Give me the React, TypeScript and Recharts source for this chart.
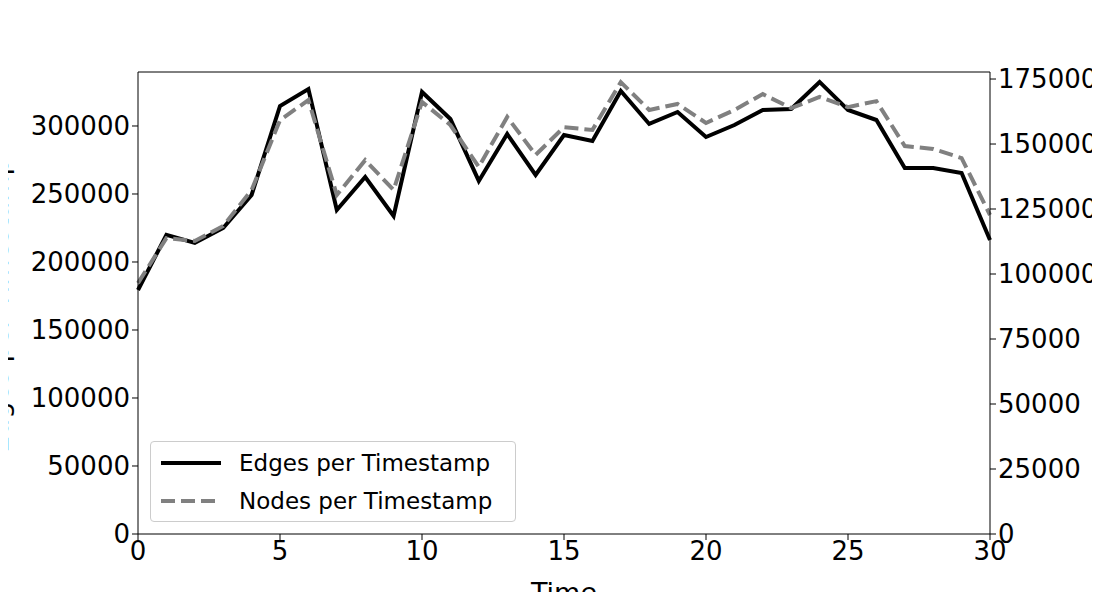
import React from "react";
import { LineChart, Line, XAxis, YAxis } from "recharts";

const times = Array.from({ length: 31 }, (_, i) => i);
const edges = [179400,219900,214000,225000,249300,314700,327200,238200,262500,233800,325000,305100,259600,294100,264000,293400,289000,325700,301500,310300,291900,300700,311800,312500,332400,311800,304400,269100,269100,265400,216200];
const nodes = [96500,113800,112700,118500,132300,159200,166900,130400,143800,132300,166200,157300,141200,160400,145800,156500,155400,173800,163100,165400,158100,163100,169200,163800,168100,164200,166500,149200,148100,144600,122700];
const xTicks = [0,5,10,15,20,25,30];
const leftTicks = [0,50000,100000,150000,200000,250000,300000];
const rightTicks = [0,25000,50000,75000,100000,125000,150000,175000];

const data = times.map((t, i) => ({ t, edges: edges[i], nodes: nodes[i] }));
const font = "DejaVu Sans";
const tick = { fill: "#000", fontSize: 26, fontFamily: font };

const LegendBox = () => (
  <div style={{ position: "absolute", left: 150, top: 441, boxSizing: "border-box", border: "1px solid #ccc", borderRadius: 4, background: "#fff", padding: "2px 10px", width: 366, height: 81, fontFamily: font, fontSize: 23 }}>
    <div style={{ display: "flex", alignItems: "center", height: 38 }}>
      <svg width={60} height={10}><line x1={0} y1={5} x2={60} y2={5} stroke="#000" strokeWidth={4} /></svg>
      <span style={{ marginLeft: 18 }}>Edges per Timestamp</span>
    </div>
    <div style={{ display: "flex", alignItems: "center", height: 38 }}>
      <svg width={60} height={10}><line x1={0} y1={5} x2={60} y2={5} stroke="#808080" strokeWidth={4} strokeDasharray="14 6" /></svg>
      <span style={{ marginLeft: 18 }}>Nodes per Timestamp</span>
    </div>
  </div>
);

export default function App() {
  return (
    <div style={{ margin: -8, width: 1100, height: 600, background: "#fff", overflow: "hidden", position: "relative" }}>
      <LineChart width={1100} height={600} data={data} margin={{ top: 72, right: 0, bottom: 0, left: 0 }}>
        <XAxis dataKey="t" type="number" domain={[0, 30]} ticks={xTicks} tick={tick} tickLine={{ stroke: "#000" }} axisLine={{ stroke: "#000" }} height={66} tickSize={6}
          label={{ value: "Time", position: "insideBottom", offset: -2, style: { fontSize: 27, fontFamily: font, fill: "#000" } }} />
        <YAxis yAxisId="l" domain={[0, 339700]} ticks={leftTicks} tick={tick} width={138} tickSize={6} axisLine={{ stroke: "#000" }} tickLine={{ stroke: "#000" }}
          label={{ value: "Edges per Timestamp", angle: -90, position: "insideLeft", offset: -2, dy: 150, style: { fontSize: 27, fontFamily: font, fill: "#000" } }} />
        <YAxis yAxisId="r" orientation="right" domain={[0, 177700]} ticks={rightTicks} tick={tick} width={110} tickSize={6} axisLine={{ stroke: "#000" }} tickLine={{ stroke: "#000" }} />
        <Line yAxisId="l" dataKey="edges" stroke="#000" strokeWidth={4} dot={false} isAnimationActive={false} />
        <Line yAxisId="r" dataKey="nodes" stroke="#808080" strokeWidth={4} strokeDasharray="14 6" dot={false} isAnimationActive={false} />
        <line x1={138} y1={72} x2={990} y2={72} stroke="#000" />
      </LineChart>
      <LegendBox />
    </div>
  );
}
